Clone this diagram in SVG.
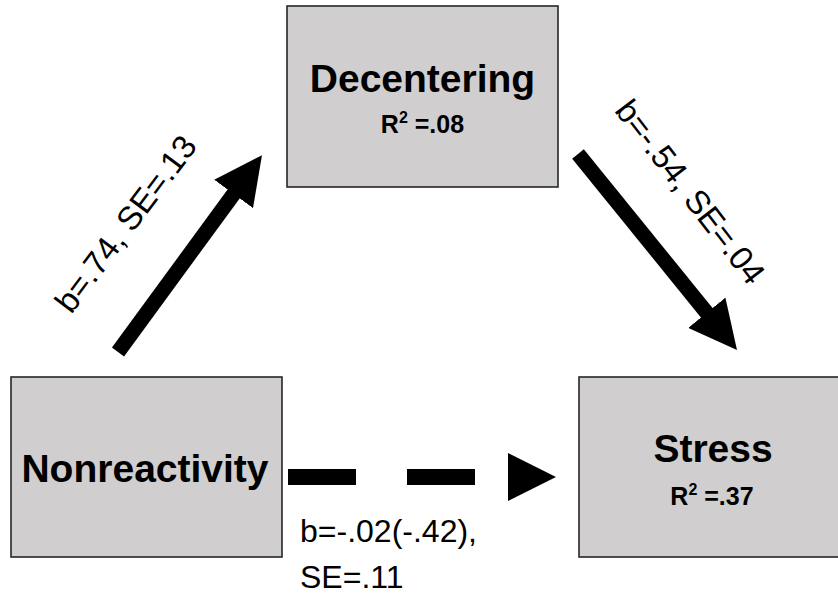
<svg xmlns="http://www.w3.org/2000/svg" width="838" height="599" viewBox="0 0 838 599">
<style>
.box{fill:#d0cece;stroke:#262626;stroke-width:1.6}
.name{font-family:"Liberation Sans",Arial,sans-serif;font-weight:bold;font-size:39px;fill:#000;text-anchor:middle}
.r2{font-family:"Liberation Sans",Arial,sans-serif;font-weight:bold;font-size:25px;fill:#000;text-anchor:middle}
.lbl{font-family:"Liberation Sans",Arial,sans-serif;font-size:32px;fill:#000}
.rot{font-size:33px;text-anchor:middle}
.arrow{stroke:#000;stroke-width:15;fill:none}
.dash{stroke:#000;stroke-width:16;fill:none;stroke-dasharray:68 51 68 33}
</style>
<defs>
<marker id="head" viewBox="0 0 10 10" refX="2" refY="5" markerWidth="3.2" markerHeight="3.2" orient="auto" markerUnits="strokeWidth">
<path d="M0,0 L10,5 L0,10 Z" fill="#000"/>
</marker>
<marker id="headD" viewBox="0 0 10 10" refX="0" refY="5" markerWidth="3" markerHeight="3" orient="auto" markerUnits="strokeWidth">
<path d="M0,0 L10,5 L0,10 Z" fill="#000"/>
</marker>
</defs>
<rect width="838" height="599" fill="#fff"/>
<g id="decentering">
<rect class="box" x="287" y="6" width="271" height="181"/>
<text class="name" x="422.5" y="92">Decentering</text>
<text class="r2" x="422.5" y="133">R<tspan font-size="16" dy="-10">2</tspan><tspan dy="10"> =.08</tspan></text>
</g>
<g id="nonreactivity">
<rect class="box" x="11" y="377" width="271" height="180"/>
<text class="name" x="145" y="482">Nonreactivity</text>
</g>
<g id="stress">
<rect class="box" x="579" y="377" width="270" height="180"/>
<text class="name" x="713" y="462">Stress</text>
<text class="r2" x="712" y="505">R<tspan font-size="16" dy="-10">2</tspan><tspan dy="10"> =.37</tspan></text>
</g>
<g id="connectors">
<line class="arrow" x1="118" y1="352" x2="239.3" y2="186.2" marker-end="url(#head)"/>
<line class="arrow" x1="578" y1="154" x2="712.8" y2="320.2" marker-end="url(#head)"/>
<path class="dash" d="M288,477 H508" marker-end="url(#headD)"/>
</g>
<g id="labels">
<text class="lbl rot" transform="translate(126,224) rotate(-53)" y="11">b=.74, SE=.13</text>
<text class="lbl rot" transform="translate(690,192) rotate(52.5)" y="11">b=-.54, SE=.04</text>
<text class="lbl" x="300" y="542">b=-.02(-.42),</text>
<text class="lbl" x="300" y="588">SE=.11</text>
</g>
</svg>
